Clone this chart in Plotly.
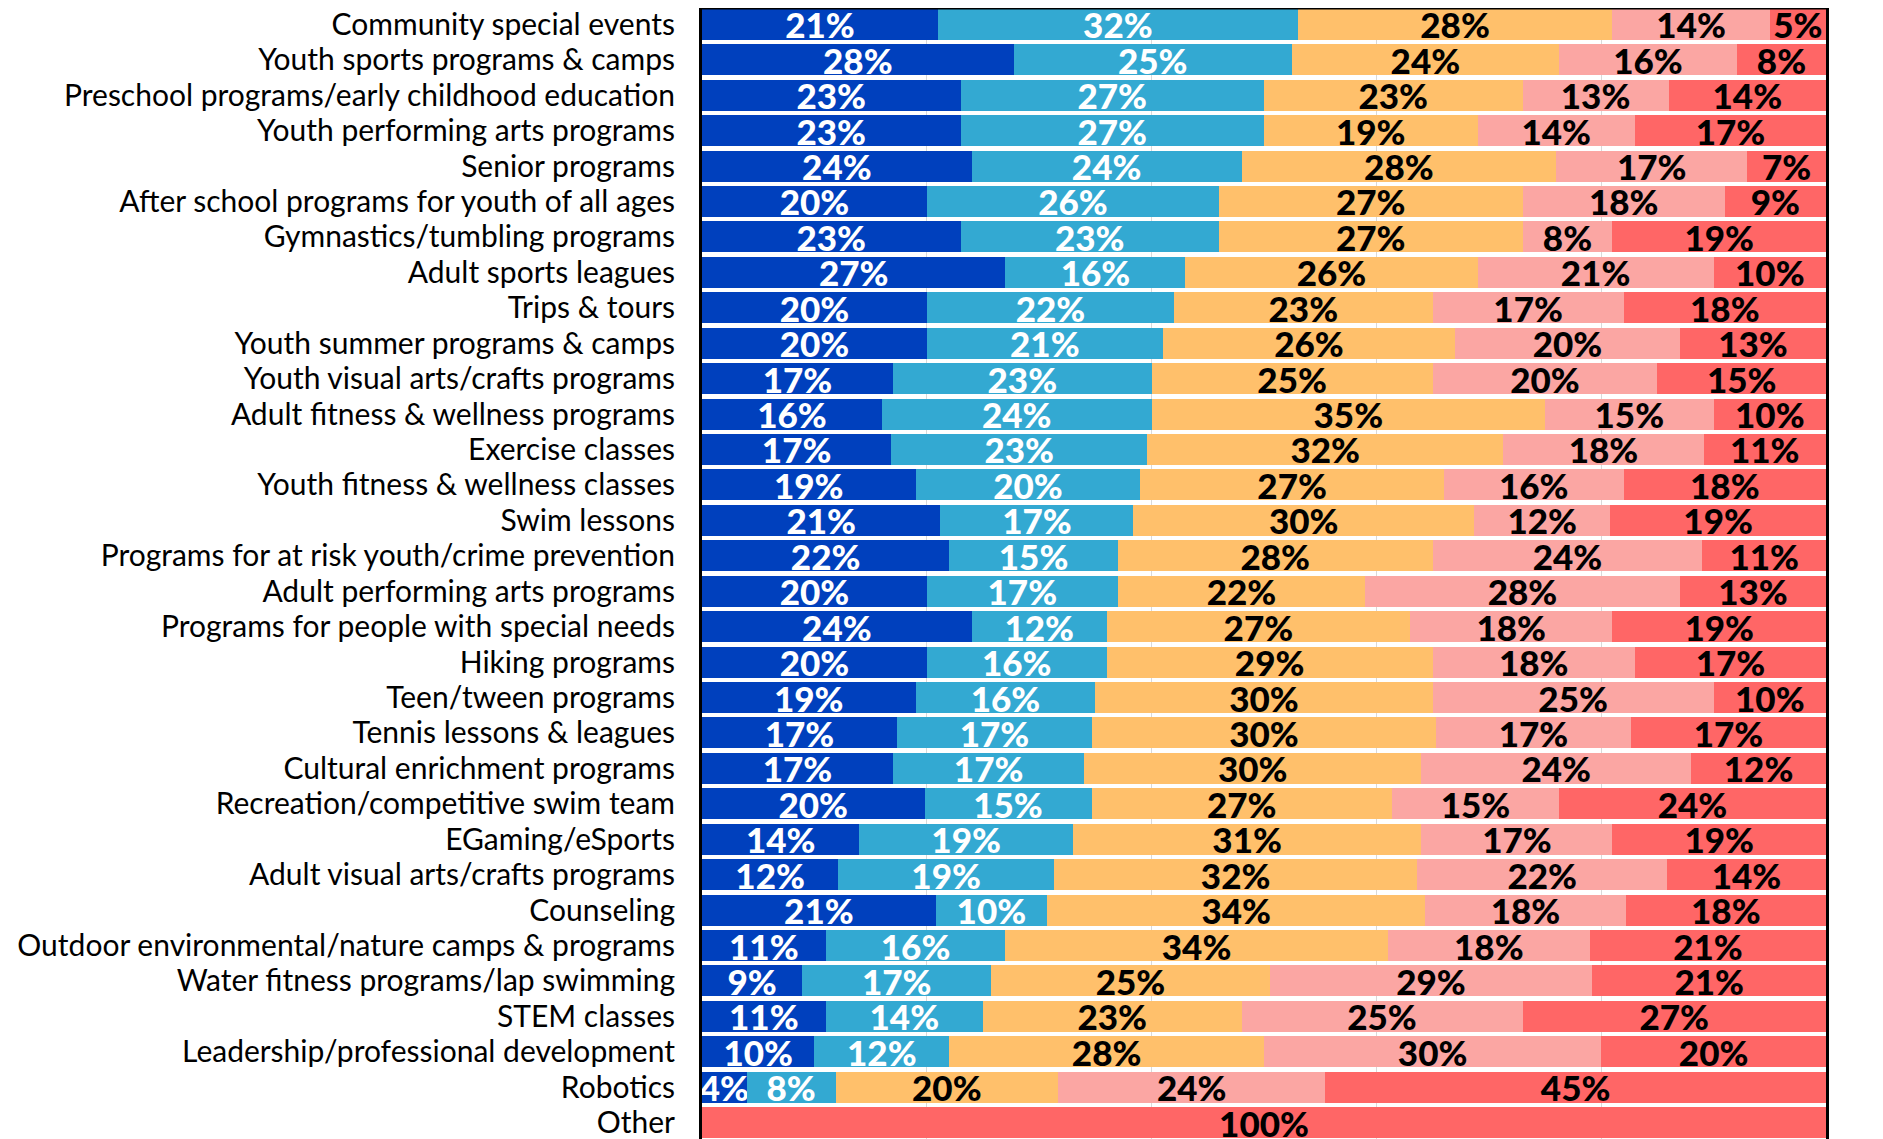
import plotly.graph_objects as go

categories = [
    "Community special events",
    "Youth sports programs & camps",
    "Preschool programs/early childhood education",
    "Youth performing arts programs",
    "Senior programs",
    "After school programs for youth of all ages",
    "Gymnastics/tumbling programs",
    "Adult sports leagues",
    "Trips & tours",
    "Youth summer programs & camps",
    "Youth visual arts/crafts programs",
    "Adult fitness & wellness programs",
    "Exercise classes",
    "Youth fitness & wellness classes",
    "Swim lessons",
    "Programs for at risk youth/crime prevention",
    "Adult performing arts programs",
    "Programs for people with special needs",
    "Hiking programs",
    "Teen/tween programs",
    "Tennis lessons & leagues",
    "Cultural enrichment programs",
    "Recreation/competitive swim team",
    "EGaming/eSports",
    "Adult visual arts/crafts programs",
    "Counseling",
    "Outdoor environmental/nature camps & programs",
    "Water fitness programs/lap swimming",
    "STEM classes",
    "Leadership/professional development",
    "Robotics",
    "Other",
]

series1 = [21, 28, 23, 23, 24, 20, 23, 27, 20, 20, 17, 16, 17, 19, 21, 22, 20, 24, 20, 19, 17, 17, 20, 14, 12, 21, 11, 9, 11, 10, 4, 0]
series2 = [32, 25, 27, 27, 24, 26, 23, 16, 22, 21, 23, 24, 23, 20, 17, 15, 17, 12, 16, 16, 17, 17, 15, 19, 19, 10, 16, 17, 14, 12, 8, 0]
series3 = [28, 24, 23, 19, 28, 27, 27, 26, 23, 26, 25, 35, 32, 27, 30, 28, 22, 27, 29, 30, 30, 30, 27, 31, 32, 34, 34, 25, 23, 28, 20, 0]
series4 = [14, 16, 13, 14, 17, 18, 8, 21, 17, 20, 20, 15, 18, 16, 12, 24, 28, 18, 18, 25, 17, 24, 15, 17, 22, 18, 18, 29, 25, 30, 24, 0]
series5 = [5, 8, 14, 17, 7, 9, 19, 10, 18, 13, 15, 10, 11, 18, 19, 11, 13, 19, 17, 10, 17, 12, 24, 19, 14, 18, 21, 21, 27, 20, 45, 100]

series = [series1, series2, series3, series4, series5]
colors = ["#0040BD", "#33A9D2", "#FFC06B", "#FBA6A3", "#FF6666"]
text_colors = ["white", "white", "black", "black", "black"]

fig = go.Figure()
for vals, col, tcol in zip(series, colors, text_colors):
    fig.add_trace(go.Bar(
        y=categories,
        x=vals,
        orientation="h",
        marker=dict(color=col, line=dict(width=0)),
        text=[f"{v}%" if v > 0 else "" for v in vals],
        textposition="inside",
        insidetextanchor="middle",
        textangle=0,
        constraintext="none",
        textfont=dict(family="Lato", size=35, color=tcol, weight=900),
        width=0.875,
        showlegend=False,
        hoverinfo="skip",
    ))

fig.update_layout(
    barmode="stack",
    barnorm="percent",
    width=1875,
    height=1131,
    margin=dict(l=694, r=57, t=0, b=0, autoexpand=False),
    paper_bgcolor="white",
    plot_bgcolor="white",
    xaxis=dict(
        range=[0, 100],
        showgrid=True,
        gridcolor="#D9D9D9",
        gridwidth=1,
        dtick=20,
        showticklabels=False,
        zeroline=False,
        showline=False,
        automargin=False,
        fixedrange=True,
    ),
    yaxis=dict(
        autorange=False,
        range=[31.46, -0.46],
        tickmode="array",
        tickvals=categories,
        ticktext=categories,
        tickfont=dict(family="Lato", size=30, color="black"),
        ticks="",
        ticklabelstandoff=18,
        showline=True,
        mirror=True,
        linecolor="black",
        linewidth=3,
        showgrid=False,
        zeroline=False,
        automargin=False,
    ),
    shapes=[dict(type="line", xref="paper", yref="paper", x0=0, x1=1, y0=1, y1=1,
                 line=dict(color="black", width=3))],
)

fig.write_html("out.html")
